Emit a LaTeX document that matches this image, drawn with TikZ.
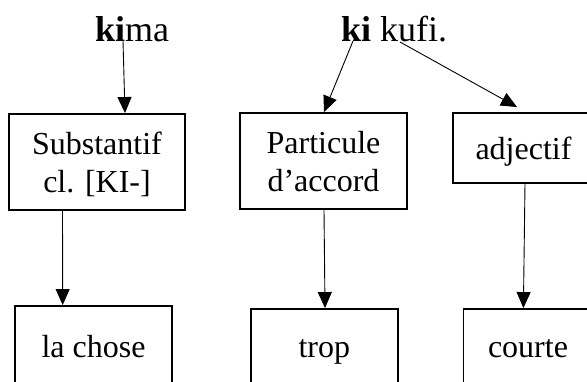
\documentclass[tikz,border=0pt]{standalone}
\usepackage{fontspec}
\setmainfont{Liberation Serif}
\usetikzlibrary{arrows.meta}
\begin{document}
\begin{tikzpicture}[x=1pt,y=-1pt,
  word/.style={inner sep=0pt,font=\fontsize{36}{40}\selectfont},
  lbl/.style={inner sep=0pt,font=\fontsize{32}{38}\selectfont,align=center},
  box/.style={draw,line width=1.9pt,inner sep=0pt},
  arr/.style={line width=0.9pt,-{Triangle[length=16pt,width=14pt]}}]
\useasboundingbox (0,0) rectangle (587,382);
\clip (0,0) rectangle (587,382);
% top words
\node[word,anchor=base west] (kima) at (95,42) {\textbf{ki}ma};
\node[word,anchor=base west] (kikufi) at (341,42) {\textbf{ki} kufi.};
\coordinate (s1) at (123,41);
\coordinate (s2) at (353,41);
\coordinate (s3) at (400,42);
% boxes
\node[box,minimum width=176pt,minimum height=96pt] (b1) at (97,162) {};
\node[box,minimum width=167pt,minimum height=96pt] (b2) at (323.5,161) {};
\node[box,minimum width=141pt,minimum height=70pt] (b3) at (523.5,148) {};
\node[box,minimum width=157pt,minimum height=110pt] (b4) at (93.5,361) {};
\node[box,minimum width=147pt,minimum height=110pt] (b5) at (324.3,364) {};
\node[box,minimum width=129pt,minimum height=110pt] (b6) at (528,364) {};
% texts
\node[lbl] (t1) at (97,164) {Substantif\\cl. [KI-]};
\node[lbl] (t2) at (323.5,161.5) {Particule\\d’accord};
\node[lbl,anchor=base] (t3) at (523.5,160) {adjectif};
\node[lbl,anchor=base] (t4) at (93.5,358) {la chose};
\node[lbl,anchor=base] (t5) at (324.3,358) {trop};
\node[lbl,anchor=base] (t6) at (528,358) {courte};
% arrows
\draw[arr] (s1) -- ([xshift=28pt]b1.north);
\draw[arr] (s2) -- ([xshift=0.5pt]b2.north);
\draw[arr] (s3) -- ([shift={(-6.5pt,5pt)}]b3.north);
\draw[arr] ([xshift=-34.5pt]b1.south) -- ([xshift=-30.8pt]b4.north);
\draw[arr] ([xshift=0.5pt]b2.south) -- ([xshift=0.7pt]b5.north);
\draw[arr] ([xshift=1.5pt]b3.south) -- ([xshift=-4.6pt]b6.north);
\end{tikzpicture}
\end{document}
